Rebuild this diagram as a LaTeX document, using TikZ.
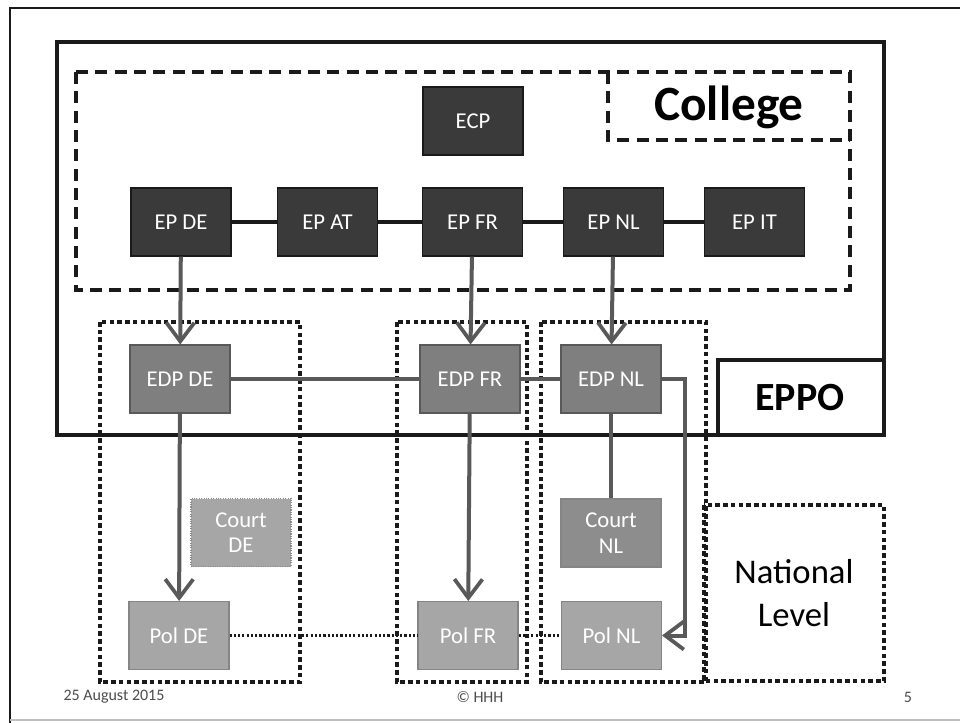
\documentclass[tikz,border=0pt]{standalone}
\usepackage{fontspec}
\setmainfont{Carlito}
\usetikzlibrary{arrows.meta,positioning,calc}
\definecolor{epfill}{HTML}{3A3A3A}
\definecolor{edpfill}{HTML}{7F7F7F}
\definecolor{natfill}{HTML}{A6A6A6}
\definecolor{link}{HTML}{595959}
\definecolor{ink}{HTML}{1A1A1A}

\begin{document}
\begin{tikzpicture}[x=0.75pt,y=-0.75pt,font=\fontsize{17}{19}\selectfont,>=Latex,
  org/.style={draw=ink,line width=.8pt,minimum width=75pt,minimum height=51pt,text=white,align=center,inner sep=1pt},
  ep/.style={org,fill=epfill},
  edp/.style={org,fill=edpfill,draw=edpfill!70!black},
  nat/.style={org,fill=natfill,draw=natfill!80!black},
  flow/.style={-{Straight Barb[length=14pt,width=21pt,line width=2.8pt]},line width=3pt,draw=link},
  peer/.style={line width=2.4pt,draw=ink},
  coop/.style={line width=2.4pt,draw=link},
  police/.style={line width=1.8pt,draw=ink,dash pattern=on 1.6pt off 1.6pt},
  group/.style={draw=ink,line width=3.6pt,dash pattern=on 3.4pt off 2.4pt},
  college/.style={draw=ink,line width=3pt,dash pattern=on 9pt off 5.5pt},
  tag/.style={font=\fontsize{12}{14}\selectfont,text=black!70}]
\useasboundingbox (0,0) rectangle (960,723);
\fill[white] (0,0) rectangle (960,723);
% page frame
\draw[ink,line width=2pt] (10,723) -- (10,8) -- (960,8);
\draw[black!25,line width=1.5pt] (10,720) -- (960,720);

% national groups
\draw[group] (100,322) rectangle (300,682);
\draw[group] (397,322) rectangle (527,682);
\draw[group] (541,322) rectangle (706,682);
\draw[group] (704,505) rectangle (884,681);
\node[align=center,font=\fontsize{26}{32}\selectfont] (national) at (794,593) {National\\Level};

% EPPO and College frames
\draw[ink,line width=2.4pt] (57,42) rectangle (884,435);
\draw[ink,line width=2.4pt] (718,435) |- (884,360);
\node[font=\fontsize{30}{32}\selectfont\bfseries] (eppo) at (800,398) {EPPO};
\draw[college] (76,72) rectangle (850,290);
\draw[college] (608,72) |- (850,140);
\node[font=\fontsize{37}{40}\selectfont\bfseries] (college) at (729,107) {College};

% central level
\node[ep] (ecp) at (473,121) {ECP};
\node[ep] (epde) at (181,222) {EP DE};
\node[ep] (epat) at (327.5,222) {EP AT};
\node[ep] (epfr) at (472.5,222) {EP FR};
\node[ep] (epnl) at (613.5,222) {EP NL};
\node[ep] (epit) at (754.5,222) {EP IT};
\draw[peer] (epde) -- (epat) -- (epfr) -- (epnl) -- (epit);

% delegated prosecutors
\node[edp] (edpde) at (180,379) {EDP DE};
\node[edp] (edpfr) at (470,379) {EDP FR};
\node[edp] (edpnl) at (611,379) {EDP NL};
\draw[coop] (edpde) -- (edpfr) -- (edpnl);

% courts and police
\node[nat,draw=black!45,densely dotted] (courtde) at (241,532.5) {Court\\DE};
\node[nat,fill=natfill!85!black] (courtnl) at (611,533) {Court\\NL};
\node[nat] (polde) at (179,635.5) {Pol DE};
\node[nat] (polfr) at (468,635.5) {Pol FR};
\node[nat] (polnl) at (611.5,635.5) {Pol NL};
\draw[police] (polde) -- (polfr) -- (polnl);

\draw[flow] (epde) -- (edpde);
\draw[flow] (epfr) -- (edpfr);
\draw[flow] (epnl) -- (edpnl);
\draw[flow] (edpde) -- (polde);
\draw[flow] (edpfr) -- (polfr);
\draw[coop,line width=3pt] (edpnl) -- (courtnl);
\coordinate (nlbend) at (685,379);
\draw[flow] (edpnl.east) -- (nlbend) |- (polnl.east);

% footer
\node[tag] (date) at (114,697) {25 August 2015};
\node[tag] (owner) at (480,697) {© HHH};
\node[tag] (page) at (908,697) {5};
\end{tikzpicture}
\end{document}
